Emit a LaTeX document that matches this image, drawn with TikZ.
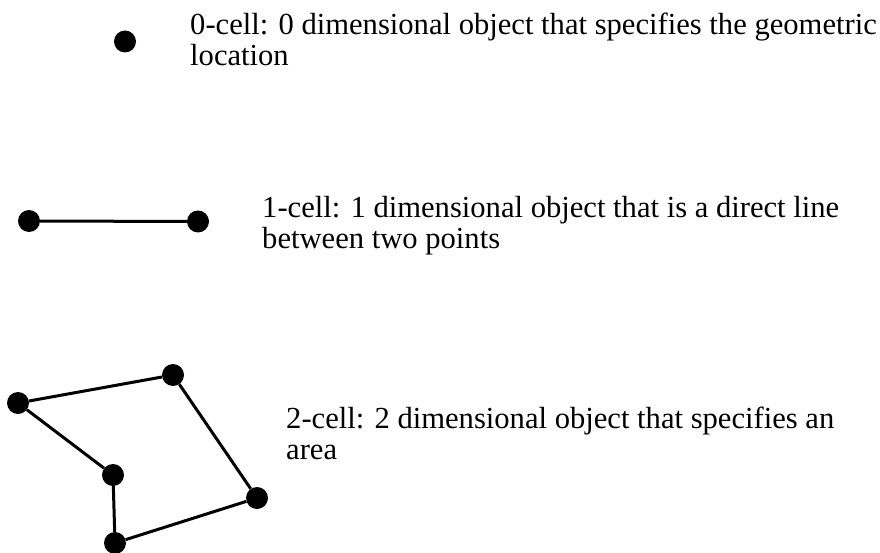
\documentclass[tikz,border=0pt]{standalone}
\usepackage{fontspec}
\setmainfont{Liberation Serif}
\begin{document}
\begin{tikzpicture}[x=1pt,y=-1pt,
  dot/.style={circle,fill=black,draw=none,minimum size=22pt,inner sep=0pt},
  edge/.style={line width=3pt,black},
  lbl/.style={anchor=base west,align=left,inner sep=0pt,font=\fontsize{30.6}{31}\selectfont}]
\useasboundingbox (0,0) rectangle (880,553);
% 0-cell
\node[dot] (p0) at (125,41.5) {};
\node[lbl] (t0) at (190,66) {0-cell: 0 dimensional object that specifies the geometric\\location};
% 1-cell
\node[dot] (a1) at (29,221) {};
\node[dot] (b1) at (198,221.5) {};
\draw[edge] (a1) -- (b1);
\node[lbl] (t1) at (262,248) {1-cell: 1 dimensional object that is a direct line\\between two points};
% 2-cell
\node[dot] (c1) at (18,403) {};
\node[dot] (c2) at (173,375) {};
\node[dot] (c3) at (257,498) {};
\node[dot] (c4) at (115,543) {};
\node[dot] (c5) at (113,475) {};
\draw[edge] (c1) -- (c2);
\draw[edge] (c2) -- (c3);
\draw[edge] (c3) -- (c4);
\draw[edge] (c4) -- (c5);
\draw[edge] (c5) -- (c1);
\node[lbl] (t2) at (286,459) {2-cell: 2 dimensional object that specifies an\\area};
\end{tikzpicture}
\end{document}
